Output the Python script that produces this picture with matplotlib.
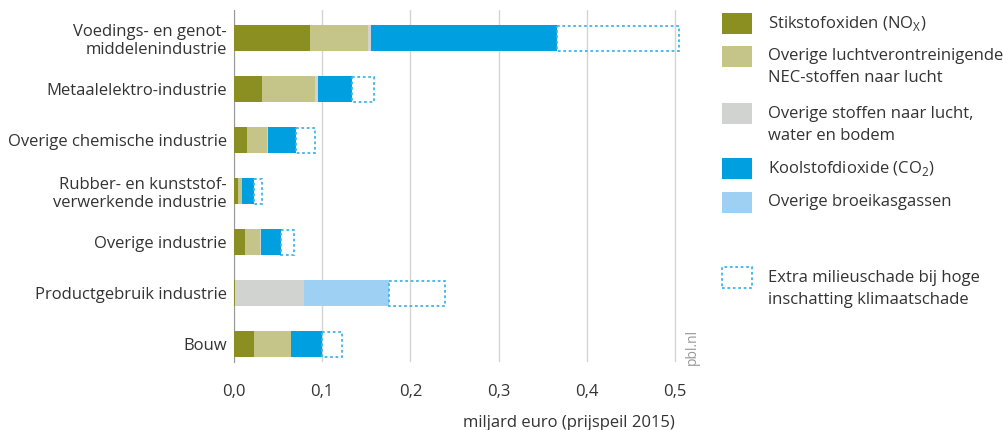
import matplotlib
matplotlib.use('Agg')
from matplotlib import pyplot as plt
from matplotlib.patches import Rectangle
import numpy as np

plt.rcParams['font.family'] = ['Open Sans', 'DejaVu Sans']

# sectoren (van boven naar beneden)
sectoren = ['Voedings- en genot-\nmiddelenindustrie', 'Metaalelektro-industrie',
            'Overige chemische industrie', 'Rubber- en kunststof-\nverwerkende industrie',
            'Overige industrie', 'Productgebruik industrie', 'Bouw']

# milieuschade, miljard euro
nox = [0.0856, 0.0317, 0.0143, 0.0045, 0.0128, 0.0010, 0.0222]
nec = [0.0661, 0.0600, 0.0234, 0.0041, 0.0170, 0.0005, 0.0423]
overig = [0.0038, 0.0033, 0.0010, 0.0005, 0.0005, 0.0773, 0.0005]
co2 = [0.2110, 0.0390, 0.0311, 0.0139, 0.0229, 0.0, 0.0342]
broeikas = [0.0, 0.0, 0.0, 0.0, 0.0, 0.0971, 0.0]
extra = [0.1381, 0.0250, 0.0219, 0.0090, 0.0151, 0.0637, 0.0227]

xticks = [0.0, 0.1, 0.2, 0.3, 0.4, 0.5]
xticklabels = ['0,0', '0,1', '0,2', '0,3', '0,4', '0,5']

reeksen = [
    ('Stikstofoxiden (NO$_\\mathregular{X}$)', nox, '#8b8f22'),
    ('Overige luchtverontreinigende\nNEC-stoffen naar lucht', nec, '#c5c589'),
    ('Overige stoffen naar lucht,\nwater en bodem', overig, '#d1d3d1'),
    ('Koolstofdioxide (CO$_\\mathregular{2}$)', co2, '#009fe0'),
    ('Overige broeikasgassen', broeikas, '#9dd0f2'),
]
dash_kleur = '#3fb4ea'
tekst = '#333333'

fig = plt.figure(figsize=(10.04, 4.3), dpi=100)
ax = fig.add_axes([234 / 1004, 1 - 362 / 430, 450 / 1004, 352 / 430])

y = np.arange(len(sectoren))
links = np.zeros(len(sectoren))
for naam, waarden, kleur in reeksen:
    ax.barh(y, waarden, left=links, height=0.51, color=kleur, linewidth=0, zorder=3)
    links += np.array(waarden)
ax.barh(y, extra, left=links, height=0.49, fill=False, edgecolor=dash_kleur,
        linewidth=1.3, linestyle=(0, (1.5, 1.5)), zorder=3)

ax.set_xlim(0, 0.51)
ax.set_ylim(6.35, -0.55)
ax.set_xticks(xticks)
ax.set_xticklabels(xticklabels, fontsize=12, color=tekst)
ax.set_yticks(y)
ax.set_yticklabels(sectoren, fontsize=12, color=tekst, linespacing=1.15)
ax.tick_params(length=0, axis='y', pad=5)
ax.tick_params(length=0, axis='x', pad=16)
ax.grid(axis='x', color='#d4d4d4', linewidth=1, zorder=0)
for s in ['top', 'right', 'bottom']:
    ax.spines[s].set_visible(False)
ax.spines['left'].set_color('#999999')

fig.text(675 / 1004, 1 - 423 / 430, 'miljard euro (prijspeil 2015)', ha='right',
         va='center', fontsize=12, color=tekst)
fig.text(692 / 1004, 1 - 347 / 430, 'pbl.nl', rotation=90, ha='center', va='center',
         fontsize=10, color='#999999')

# legenda
def leg_item(ytop, label, kleur=None, dashed=False):
    x0, w, h = 722, 30, 21
    if dashed:
        r = Rectangle((x0 / 1004, 1 - (ytop + h) / 430), w / 1004, h / 430,
                      transform=fig.transFigure, fill=False, edgecolor=dash_kleur,
                      linewidth=1.3, linestyle=(0, (1.5, 1.5)))
    else:
        r = Rectangle((x0 / 1004, 1 - (ytop + h) / 430), w / 1004, h / 430,
                      transform=fig.transFigure, facecolor=kleur, linewidth=0)
    fig.add_artist(r)
    fig.text(768 / 1004, 1 - (ytop + h / 2) / 430, label.split('\n')[0], ha='left',
             va='center', fontsize=12, color=tekst)
    if '\n' in label:
        fig.text(768 / 1004, 1 - (ytop + h / 2 + 22) / 430, label.split('\n')[1],
                 ha='left', va='center', fontsize=12, color=tekst)

leg_tops = [13, 46, 103, 158, 192]
for top, (naam, waarden, kleur) in zip(leg_tops, reeksen):
    leg_item(top, naam, kleur)
leg_item(267, 'Extra milieuschade bij hoge\ninschatting klimaatschade', dashed=True)

fig.savefig('out.png', dpi=100)
